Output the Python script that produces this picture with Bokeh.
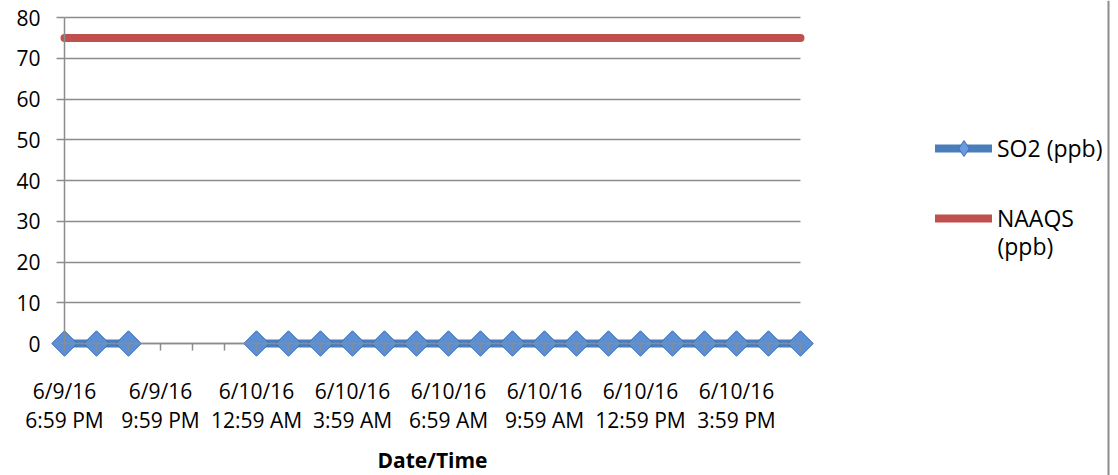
import math
from bokeh.plotting import figure
from bokeh.models import (Range1d, FixedTicker, Legend, LegendItem, Label,
                          BoxAnnotation, LinearAxis)
from bokeh.embed import file_html
from bokeh.resources import INLINE

nan = float("nan")

# ---- data ----
dates = ["6/9/16", "6/9/16", "6/9/16", "6/9/16", "6/9/16", "6/9/16",
         "6/10/16", "6/10/16", "6/10/16", "6/10/16", "6/10/16", "6/10/16",
         "6/10/16", "6/10/16", "6/10/16", "6/10/16", "6/10/16", "6/10/16",
         "6/10/16", "6/10/16", "6/10/16", "6/10/16", "6/10/16", "6/10/16"]
times = ["6:59 PM", "7:59 PM", "8:59 PM", "9:59 PM", "10:59 PM", "11:59 PM",
         "12:59 AM", "1:59 AM", "2:59 AM", "3:59 AM", "4:59 AM", "5:59 AM",
         "6:59 AM", "7:59 AM", "8:59 AM", "9:59 AM", "10:59 AM", "11:59 AM",
         "12:59 PM", "1:59 PM", "2:59 PM", "3:59 PM", "4:59 PM", "5:59 PM"]
so2 = [0, 0, 0, nan, nan, nan,
       0, 0, 0, 0, 0, 0,
       0, 0, 0, 0, 0, 0,
       0, 0, 0, 0, 0, 0]
naaqs = [75, 75, 75, 75, 75, 75,
         75, 75, 75, 75, 75, 75,
         75, 75, 75, 75, 75, 75,
         75, 75, 75, 75, 75, 75]
y_ticks = [0, 10, 20, 30, 40, 50, 60, 70, 80]
label_every = 3

xs = list(range(len(times)))

FONT = "Open Sans"
GRID = "#8c8c8c"
TICK_FS = "21px"
LEG_FS = "23px"
W, H = 1118, 475
X0, XS = 64.0, 32.0       # pixel of x=0, pixels per category
Y0, YS = 343.0, 4.075     # pixel of y=0, pixels per ppb

p = figure(frame_width=W, frame_height=H,
           min_border_left=0, min_border_right=0,
           min_border_top=0, min_border_bottom=0,
           x_range=Range1d(-X0 / XS, (W - X0) / XS),
           y_range=Range1d(-(H - Y0) / YS, Y0 / YS),
           output_backend="svg", toolbar_location=None)
p.outline_line_color = None
p.background_fill_color = "white"
p.border_fill_color = "white"

# x axis: line, ticks and date row
xa = p.xaxis[0]
xa.fixed_location = 0
xa.bounds = (0, len(times) - 1)
xa.ticker = FixedTicker(ticks=xs)
xa.major_label_overrides = {i: dates[i] if i % label_every == 0 else "" for i in xs}
xa.major_tick_in = 0
xa.major_tick_out = 7
xa.minor_tick_line_color = None
xa.axis_line_color = GRID
xa.axis_line_width = 1.5
xa.major_tick_line_color = GRID
xa.major_tick_line_width = 1.5
xa.major_label_text_font = FONT
xa.major_label_text_font_size = TICK_FS
xa.major_label_text_color = "black"
xa.major_label_standoff = 26

# x axis: time row + axis title
xt = LinearAxis(ticker=FixedTicker(ticks=xs), fixed_location=0,
                bounds=(0, len(times) - 1))
xt.major_label_overrides = {i: times[i] if i % label_every == 0 else "" for i in xs}
xt.axis_line_color = None
xt.major_tick_line_color = None
xt.minor_tick_line_color = None
xt.major_tick_in = 0
xt.major_tick_out = 0
xt.major_label_text_font = FONT
xt.major_label_text_font_size = TICK_FS
xt.major_label_text_color = "black"
xt.major_label_standoff = 62
xt.axis_label = "Date/Time"
xt.axis_label_text_font = FONT
xt.axis_label_text_font_size = "21px"
xt.axis_label_text_font_style = "bold"
xt.axis_label_text_color = "black"
xt.axis_label_standoff = 9
p.add_layout(xt, "below")

# y axis
ya = p.yaxis[0]
ya.fixed_location = 0
ya.bounds = (0, 80)
ya.ticker = FixedTicker(ticks=y_ticks)
ya.major_tick_in = 0
ya.major_tick_out = 8
ya.minor_tick_line_color = None
ya.axis_line_color = GRID
ya.axis_line_width = 1.5
ya.major_tick_line_color = GRID
ya.major_tick_line_width = 1.5
ya.major_label_text_font = FONT
ya.major_label_text_font_size = TICK_FS
ya.major_label_text_color = "black"
ya.major_label_standoff = 16

p.xgrid.visible = False
p.ygrid.ticker = FixedTicker(ticks=y_ticks)
p.ygrid.grid_line_color = GRID
p.ygrid.grid_line_width = 1.5
try:
    p.ygrid.cross_bounds = (0, len(times) - 1)
except Exception:
    pass

# series
naaqs_r = p.line(xs, naaqs, line_width=8, line_color="#C0504D", line_cap="round")
so2_line = p.line(xs, so2, line_width=8, line_color="#4A7EBB", line_cap="round")
so2_pts = p.scatter(xs, so2, marker="square", angle=math.pi / 4, size=18,
                    fill_color="#5B8FD6", line_color="#3D6DB0", line_width=1)
# legend-only diamond swatch (no visible data)
so2_key = p.scatter([nan], [nan], marker="diamond", size=18,
                    fill_color="#6A9BE0", line_color="#3D6DB0", line_width=1)

def make_legend(items, loc, gh):
    lg = Legend(items=items, location=loc, orientation="vertical",
                glyph_width=57, glyph_height=gh, label_height=24,
                label_standoff=5, padding=0, margin=0, spacing=0,
                border_line_color=None, background_fill_alpha=0,
                label_text_font=FONT, label_text_font_size=LEG_FS,
                label_text_color="black")
    p.add_layout(lg, "center")
    return lg

make_legend([LegendItem(label="SO2 (ppb)", renderers=[so2_line, so2_key])], (935, 307), 40)
make_legend([LegendItem(label="NAAQS", renderers=[naaqs_r])], (935, 241), 30)

p.add_layout(Label(x=(997 - X0) / XS, y=(Y0 - 245) / YS, text="(ppb)",
                   text_font=FONT, text_font_size=LEG_FS, text_color="black",
                   text_baseline="middle", text_align="left"))

try:
    p.add_layout(BoxAnnotation(left=1107, right=1109, top=0, bottom=H,
                               left_units="canvas", right_units="canvas",
                               top_units="canvas", bottom_units="canvas",
                               fill_color="#8c8c8c", fill_alpha=1, line_color=None))
except Exception:
    pass

open("out.html", "w").write(file_html(p, INLINE))
